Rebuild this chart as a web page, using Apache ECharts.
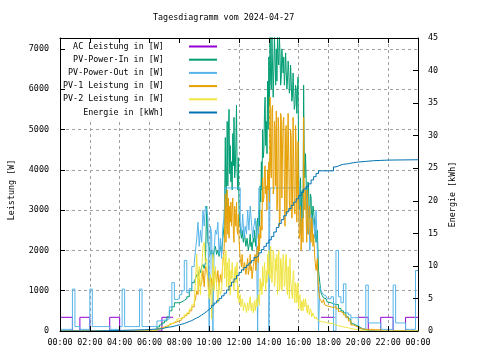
<!DOCTYPE html>
<html><head><meta charset="utf-8">
<script src="https://cdn.jsdelivr.net/npm/echarts@6/dist/echarts.min.js"></script>
<style>html,body{margin:0;padding:0;background:#fff}#c{width:480px;height:360px}</style>
</head><body><div id="c"></div>
<script>
const titleText = 'Tagesdiagramm vom 2024-04-27';
const seriesNames = ['AC Leistung in [W]', 'PV-Power-In in [W]', 'PV-Power-Out in [W]', 'PV-1 Leistung in [W]', 'PV-2 Leistung in [W]', 'Energie in [kWh]'];
const leftAxisName = 'Leistung [W]';
const rightAxisName = 'Energie [kWh]';

// AC power: change points (minutes after midnight); null = hidden under PV-Power-Out
const acMinutes = [0,50,80,120,200,240,410,450,455,1050,1100,1105,1200,1240,1290,1340,1390,1440];
const acPower   = [340,0,340,0,340,0,340,340,null,340,340,null,340,0,340,0,340,340];

// PV-Power-Out sample times
const outMinutes = [
0,10,20,30,40,50,60,70,80,90,100,110,120,130,140,150,160,170,180,190,200,210,220,230,240,250,260,270,280,290,300,310,320,330,340,350,360,370,380,390,400,410,420,430,440,450,460,470,480,490,500,510,520,530,
540,545,550,555,560,565,570,575,580,585,590,595,600,605,610,615,620,625,630,635,640,645,650,655,660,665,670,675,680,685,690,695,700,705,710,715,720,725,730,735,740,745,750,755,760,765,770,775,780,785,790,795,800,805,810,815,820,825,830,835,840,845,850,855,860,865,870,875,880,885,890,895,900,905,910,915,920,925,930,935,940,945,950,955,960,965,970,975,980,985,990,995,1000,1005,1010,1015,1020,1025,1030,1035,1040,1045,1050,1055,1060,1065,1070,1075,
1080,1090,1100,1110,1120,1130,1140,1150,1160,1170,1180,1190,1200,1210,1220,1230,1240,1250,1260,1270,1280,1290,1300,1310,1320,1330,1340,1350,1360,1370,1380,1390,1400,1410,1420,1430,1440];
const pvOut = [
40,40,40,40,40,1040, 110,110,40,40,40,40, 1040,110,110,110,110,110, 110,110,40,40,40,40, 110,1040,110,110,110,110, 110,110,1040,110,110,110,
110,110,110,250,260,270, 280,300,600,1200,780,800, 900,1000,1750,950,1050,1600,
1700,2000,2300,2700,2100,2500, 2200,3000,2600,3100,3000,2800, 0,2600,2400,0,2000,2500, 2400,2700,1900,2300,1800,2600,
2800,3550,3550,3550,3550,3550, 3550,3550,3550,3550,3550,3550, 3550,2700,2400,2900,2300,2600, 2400,3000,2500,3100,2700,2300,
2600,2800,2400,0,3550,3550, 3550,3550,3550,3550,3550,3550, 0,3550,3550,3550,3550,3550, 3550,3550,3550,3550,3550,3550,
3550,3550,3550,3550,3550,3550, 3550,3550,3550,3550,3550,3550, 3550,2600,2400,3100,3550,3550, 3550,2400,3100,2000,2900,2500,
2800,2300,3000,2000,0,1100, 1000,950,900,870,850,800,
800,850,0,2000,850,700, 1170,450,400,330,330,330, 60,50,50,1140,200,200, 200,200,200,40,40,40, 40,40,1140,200,200,200, 200,40,40,40,40,1500, 1500];

// PV-In / PV-1 / PV-2 sample times
const pvMinutes = [
0,10,20,30,40,50,60,70,80,90,100,110,120,130,140,150,160,170,180,190,200,210,220,230,240,250,260,270,280,290,300,310,320,330,340,350,360,370,380,390,400,410,420,430,440,450,460,470,480,490,500,510,520,530,
540,545,550,555,560,565,570,575,580,585,590,595,600,605,610,615,620,625,630,635,640,645,650,655,
660,662.5,665,667.5,670,672.5,675,677.5,680,682.5,685,687.5,
690,692.5,695,697.5,700,702.5,705,707.5,710,712.5,715,717.5,
720,722.5,725,727.5,730,732.5,735,737.5,740,742.5,745,747.5,
750,752.5,755,757.5,760,762.5,765,767.5,770,772.5,775,777.5,
780,782.5,785,787.5,790,792.5,795,797.5,800,802.5,805,807.5,
810,812.5,815,817.5,820,822.5,825,827.5,830,832.5,835,837.5,
840,842.5,845,847.5,850,852.5,855,857.5,860,862.5,865,867.5,
870,872.5,875,877.5,880,882.5,885,887.5,890,892.5,895,897.5,
900,902.5,905,907.5,910,912.5,915,917.5,920,922.5,925,927.5,
930,932.5,935,937.5,940,942.5,945,947.5,950,952.5,955,957.5,
960,962.5,965,967.5,970,972.5,975,977.5,980,982.5,985,987.5,
990,992.5,995,997.5,1000,1002.5,1005,1007.5,1010,1012.5,1015,1017.5,
1020,1025,1030,1035,1040,1045,1050,1055,1060,1065,1070,1075,
1080,1090,1100,1110,1120,1130,1140,1150,1160,1170,1180,1190,1200,1210,1220,1230,1240,1250,1260,1270,1280,1290,1300,1310,1320,1330,1340,1350,1360,1370,1380,1390,1400,1410,1420,1430,1440];

const pvIn = [
0,0,0,0,0,0, 0,0,0,0,0,0, 0,0,0,0,0,0, 0,0,0,0,0,0, 0,0,0,0,0,0, 0,0,0,0,0,0,
0,10,30,100,150,200, 250,350,500,600,700,700, 720,760,800,850,1000,1200,
1250,1300,1400,1350,1500,1450, 1600,1650,1550,1700,3100,2200, 2100,1900,2000,1800,2000,2100, 1900,2000,1850,2100,1950,2300,
2600,3400,4800,3000,3800,5200,3600,5000,5500,3900,4600,3700,
4200,3500,4900,4100,5300,3800,4000,4700,5600,3900,3500,4300,
3000,2700,2600,2400,2300,2500,2500,2200,2200,2400,2400,2100,
2100,2300,2300,2000,2000,2200,2400,2100,2200,2000,2000,2300,
2200,2500,2500,2100,2100,2700,2800,2300,3000,2600,3600,3200,
4200,3500,5000,4300,4500,5400,5800,4600,5200,4400,6200,5000,
6800,5600,7300,6200,6000,7300,7300,5800,6500,7300,7300,6100,
7000,6200,7300,6800,6600,7300,6900,6100,6300,7000,7000,6400,
6800,6100,6400,6900,6900,6000,6200,6700,6500,5900,6000,6600,
6200,5700,5800,6400,6400,5500,5600,6100,6000,5400,5900,6300,
4000,3100,3000,3800,2600,3400,3500,2800,6100,4200,3800,4400,
3800,3000,3200,3700,3500,2800,2900,3400,3300,2600,2800,3100,
3000,2600,2200,2500,1500,1200, 950,880,820,800,760,720,
700,680,650,660,560,500, 450,350,300,180,150,120, 80,50,30,20,0,0, 0,0,0,0,0,0, 0,0,0,0,0,0, 0,0,0,0,0,0, 0];

const pv1 = [
0,0,0,0,0,0, 0,0,0,0,0,0, 0,0,0,0,0,0, 0,0,0,0,0,0, 0,0,0,0,0,0, 0,0,0,0,0,0,
10,20,40,60,80,100, 120,150,180,200,230,250, 280,330,380,430,500,600,
700,800,1000,900,1300,1100, 1200,1500,1100,1600,1500,1300, 1000,900,1300,1100,1400,1500, 1200,1500,1100,1400,1200,1700,
2000,2600,3400,2200,2900,3500,2400,3300,2300,3100,2700,3200,
2600,3000,3300,2400,2200,3100,2900,2600,3200,2500,2400,2900,
2300,2000,1800,1700,1600,1900,1900,1500,1500,1700,1700,1400,
1500,1700,1800,1400,1400,1600,1900,1500,1600,1300,1300,1600,
1600,1800,1900,1500,1500,2000,2100,1700,2400,2000,2600,2300,
3000,2500,3800,3200,3300,4000,4100,3400,3600,3000,4000,3500,
4200,3200,5800,4000,3800,5500,5600,3400,3500,5200,5000,3600,
5460,3000,3200,5300,5000,2600,2800,5400,5300,3300,4500,5200,
5300,3500,2600,5000,5100,2900,4200,5400,5400,3200,3000,5000,
4800,2800,3100,5300,5300,3000,2900,5100,4600,2700,3600,4700,
3000,2300,2400,3100,2000,2700,2800,2200,5300,3200,3000,3500,
2800,2200,3500,2600,2400,3100,3000,2300,2200,2800,2600,2100,
2400,1800,1500,1800,1000,800, 750,700,780,650,620,600,
600,580,620,550,480,450, 400,330,250,150,120,100, 60,50,40,40,40,40, 30,30,30,0,0,0, 0,0,0,0,0,0, 0,0,0,0,0,0, 0];

const pv2 = [
0,0,0,0,0,0, 0,0,0,0,0,0, 0,0,0,0,0,0, 0,0,0,0,0,0, 0,0,0,0,0,0, 0,0,0,0,0,0,
0,10,20,40,60,80, 100,130,180,220,250,300, 320,350,400,450,550,650,
800,1200,1900,1000,1600,900, 1500,2100,2200,1700,1800,1100, 800,1400,300,1900,1000,1600, 1100,700,1200,900,1000,1800,
1900,1300,1600,2000,1100,1700,1500,1000,1800,1300,900,1500,
1300,1700,1700,1100,1000,1500,1600,1200,1200,1700,800,1100,
700,800,900,600,600,800,750,500,500,700,650,550,
450,600,700,500,550,750,850,600,500,700,650,450,
600,750,500,650,800,600,700,900,900,650,1300,1000,
1200,900,1600,1100,1300,1700,1700,1000,1500,1200,1900,1400,
2000,1400,1300,2100,2100,1200,1500,2000,1900,1100,1200,1800,
1500,1900,900,1400,2000,1000,1100,1800,1700,1000,1300,1900,
1700,1100,1200,1800,1900,1000,900,1600,1400,800,1800,1300,
1300,900,800,1400,1500,800,700,1200,1100,700,900,1200,
550,800,900,600,500,750,700,500,800,650,600,800,
700,500,450,650,600,400,400,550,500,350,350,450,
400,300,350,280,250,230, 220,200,230,210,200,190,
190,180,150,130,120,100, 90,80,60,50,40,30, 20,10,0,0,0,0, 0,0,0,0,0,0, 0,0,0,0,0,0, 0,0,0,0,0,0, 0];

const energyMinutes = [0,130,190,250,300,340,370,390,410,420,430,440,450,460,470,480,490,500,510,520,530,540,550,560,570,580,590,600,610,620,630,640,650,660,670,680,690,700,710,720,730,740,750,760,770,780,790,800,810,820,830,840,850,860,870,880,890,900,910,920,930,940,950,960,970,980,990,1000,1010,1020,1030,1040,1100,1110,1120,1130,1140,1160,1180,1200,1230,1260,1290,1320,1440];
const energyKWh = [0,0.05,0.1,0.15,0.2,0.25,0.3,0.35,0.45,0.55,0.6,0.65,0.75,0.85,0.95,1.05,1.15,1.3,1.45,1.6,1.8,2.0,2.2,2.45,2.7,3.0,3.3,3.6,3.95,4.3,4.65,5.0,5.4,5.8,6.3,6.9,7.5,8.0,8.5,9.0,9.4,9.75,10.1,10.45,10.8,11.3,11.6,12.0,12.5,13.0,13.5,14.0,14.5,15.2,15.9,16.5,17.1,17.7,18.3,18.8,19.3,19.8,20.3,20.8,21.3,21.8,22.2,22.6,23.2,23.7,24.2,24.6,25.2,25.35,25.5,25.6,25.7,25.85,25.95,26.05,26.15,26.2,26.25,26.3,26.3];

const FONT = 'DejaVu Sans Mono';
const FS = 8.4;
const pairs = (xs, ys) => xs.map((x, i) => [x, ys[i]]);
const colors = ['#9400D3', '#009E73', '#56B4E9', '#E69F00', '#F0E442', '#0072B2'];
const seriesData = [
  [acMinutes, acPower, 0], [pvMinutes, pvIn, 0], [outMinutes, pvOut, 0],
  [pvMinutes, pv1, 0], [pvMinutes, pv2, 0], [energyMinutes, energyKWh, 1]
];

const hhmm = v => { const h = Math.floor(v / 60) % 24, m = v % 60; return String(h).padStart(2, '0') + ':' + String(m).padStart(2, '0'); };
const txt = { fontFamily: FONT, fontSize: FS, color: '#000' };
const blackLine = { show: true, onZero: false, lineStyle: { color: '#000', width: 1 } };
const tickIn = { show: true, inside: true, length: 5, lineStyle: { color: '#000', width: 1 } };
const gridDash = { show: true, lineStyle: { color: '#a0a0a0', width: 1, type: [3, 3] } };

const series = seriesData.map((s, k) => ({
  name: seriesNames[k], type: 'line', step: 'end', symbol: 'none', showSymbol: false,
  xAxisIndex: 0, yAxisIndex: s[2], data: pairs(s[0], s[1]), silent: true, connectNulls: false,
  lineStyle: { color: colors[k], width: 1 }, itemStyle: { color: colors[k] }
}));

const chart = echarts.init(document.getElementById('c'), null, { renderer: 'canvas' });
chart.setOption({
  animation: false,
  backgroundColor: '#fff',
  title: { text: titleText, left: 153, top: 14, padding: 0, textStyle: { fontFamily: FONT, fontSize: FS, fontWeight: 'normal', color: '#000' } },
  legend: {
    data: seriesNames, orient: 'vertical', left: 58, top: 38, padding: [3, 8, 1, 5],
    itemGap: 2.2, itemWidth: 28, itemHeight: 2, icon: 'rect', align: 'right',
    backgroundColor: '#fff', selectedMode: false,
    formatter: n => n.padStart(20, ' ') + '    ',
    textStyle: { fontFamily: FONT, fontSize: FS, color: '#000', lineHeight: 11 }
  },
  grid: { left: 58, right: 62, top: 38, bottom: 29 },
  xAxis: [
    { type: 'value', min: 0, max: 1440, interval: 120, position: 'bottom', z: 5, axisLine: blackLine, axisTick: tickIn,
      axisLabel: Object.assign({ margin: 8, formatter: hhmm }, txt), splitLine: { show: false } },
    { type: 'value', min: 0, max: 1440, interval: 120, position: 'top', z: 5, axisLine: blackLine, axisTick: tickIn,
      axisLabel: { show: false }, splitLine: { show: false } },
    { type: 'value', min: 0, max: 1440, interval: 120, position: 'bottom', z: 0, axisLine: { show: false }, axisTick: { show: false },
      axisLabel: { show: false }, splitLine: gridDash }
  ],
  yAxis: [
    { type: 'value', min: 0, max: 7270, interval: 1000, position: 'left', z: 5, axisLine: blackLine, axisTick: tickIn,
      axisLabel: Object.assign({ margin: 11, showMaxLabel: false, formatter: v => String(v) }, txt), splitLine: { show: false },
      name: leftAxisName, nameLocation: 'middle', nameGap: 44, nameRotate: 90, nameTextStyle: Object.assign({ padding: [0, 11, 0, 0] }, txt) },
    { type: 'value', min: 0, max: 45, interval: 5, position: 'right', z: 5, axisLine: blackLine, axisTick: tickIn,
      axisLabel: Object.assign({ margin: 10 }, txt), splitLine: { show: false },
      name: rightAxisName, nameLocation: 'middle', nameGap: 30, nameRotate: 90, nameTextStyle: Object.assign({ padding: [0, 20, 0, 0] }, txt) },
    { type: 'value', min: 0, max: 7270, interval: 1000, position: 'left', z: 0, axisLine: { show: false }, axisTick: { show: false },
      axisLabel: { show: false }, splitLine: gridDash }
  ],
  series: series
});
</script>
</body></html>
